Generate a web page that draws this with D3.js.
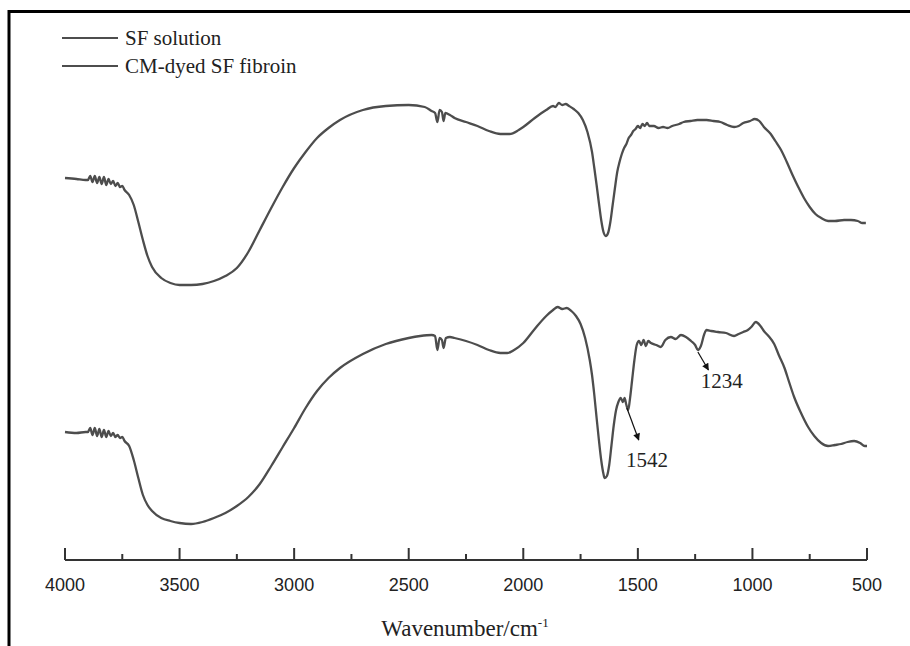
<!DOCTYPE html>
<html>
<head>
<meta charset="utf-8">
<script src="https://cdn.jsdelivr.net/npm/d3@7"></script>
<style>
  body { margin: 0; background: #fff; }
  svg { display: block; }
</style>
</head>
<body>
<svg id="chart" width="910" height="646"></svg>
<script>
// FTIR spectra, wavenumber (cm-1) vs transmittance (a.u., offset per curve)
var seriesNames = ["SF solution", "CM-dyed SF fibroin"];

var sfSolution = [
  [4000,76.4],[3950,76.2],[3910,76.0],[3900,76.0],[3890,76.8],[3880,75.6],[3870,76.8],[3860,75.4],
  [3850,76.6],[3840,75.2],[3830,76.6],[3820,75.0],[3810,76.2],[3800,75.2],[3790,75.8],[3780,74.8],
  [3770,75.4],[3760,74.6],[3750,74.8],[3740,74.0],[3720,73.0],[3700,71.0],[3680,67.6],[3660,64.0],[3640,60.8],
  [3620,58.6],[3580,56.4],[3540,55.4],[3500,55.0],[3450,55.0],[3400,55.2],[3350,55.8],[3300,56.8],
  [3250,58.4],[3200,61.6],[3150,66.0],[3100,70.4],[3050,74.6],[3000,78.4],[2950,81.6],[2900,84.4],
  [2850,86.4],[2800,88.0],[2700,90.0],[2600,90.8],[2500,91.0],[2430,90.6],[2400,89.8],[2385,89.4],
  [2375,87.6],[2365,90.0],[2355,89.6],[2348,87.8],[2340,89.4],[2320,89.0],[2300,88.4],[2250,87.6],
  [2200,86.8],[2150,85.8],[2100,85.2],[2060,85.2],[2020,86.0],[2000,86.6],[1950,88.4],[1900,90.0],
  [1870,90.8],[1860,90.6],[1845,91.4],[1830,91.0],[1815,91.2],[1800,90.8],[1780,90.2],[1760,89.4],
  [1740,88.0],[1720,85.6],[1700,81.6],[1690,78.4],[1680,75.0],[1670,71.4],[1660,68.0],[1650,65.6],
  [1640,64.8],[1630,65.4],[1620,67.6],[1610,71.0],[1600,74.4],[1590,77.6],[1580,79.6],[1570,81.2],
  [1560,82.4],[1550,83.2],[1540,84.4],[1530,85.0],[1520,85.8],[1510,86.2],[1500,86.8],[1490,86.4],
  [1480,87.2],[1470,86.8],[1460,87.4],[1450,86.8],[1430,86.8],[1410,86.4],[1390,86.6],[1370,86.4],
  [1350,86.8],[1320,87.2],[1300,87.6],[1270,87.8],[1240,88.0],[1200,88.0],[1170,87.8],[1140,87.6],
  [1110,87.0],[1080,86.6],[1060,86.8],[1040,87.4],[1010,87.8],[990,88.2],[970,87.8],[950,86.6],
  [920,85.2],[900,83.8],[875,82.0],[850,79.6],[825,77.0],[800,74.6],[775,72.4],[750,70.6],
  [725,69.2],[700,68.4],[670,67.8],[640,67.8],[600,68.0],[570,68.0],[540,67.8],[520,67.4],[505,67.4]
];

var cmDyed = [
  [4000,25.6],[3950,25.4],[3910,25.6],[3900,25.6],[3890,26.4],[3880,25.0],[3870,26.4],[3860,24.8],
  [3850,26.2],[3840,24.6],[3830,26.0],[3820,24.6],[3810,25.8],[3800,24.8],[3790,25.4],[3780,24.6],
  [3770,25.0],[3760,24.4],[3750,24.6],[3740,23.8],[3720,22.8],[3700,20.0],[3680,16.4],[3660,13.0],[3640,11.0],
  [3620,9.8],[3580,8.4],[3540,7.8],[3500,7.4],[3450,7.2],[3400,7.6],[3350,8.4],[3300,9.4],
  [3250,10.8],[3200,12.6],[3150,15.2],[3100,18.8],[3050,22.6],[3000,26.4],[2950,30.4],[2900,33.8],
  [2850,36.4],[2800,38.4],[2700,41.2],[2600,43.2],[2500,44.4],[2450,44.8],[2400,45.0],[2385,44.8],
  [2375,42.0],[2365,44.4],[2355,44.0],[2348,42.4],[2338,44.4],[2320,44.6],[2300,44.4],[2250,43.8],
  [2200,43.0],[2150,42.0],[2100,41.4],[2070,41.4],[2040,42.0],[2000,43.4],[1950,46.2],[1900,48.8],
  [1870,50.0],[1850,50.6],[1830,50.2],[1810,50.4],[1790,49.8],[1770,48.8],[1750,47.2],[1730,44.4],
  [1710,40.0],[1700,37.0],[1690,33.0],[1680,28.4],[1670,24.0],[1660,20.0],[1650,17.2],[1645,16.4],
  [1635,16.8],[1625,19.0],[1615,23.0],[1605,27.0],[1595,30.0],[1585,31.6],[1575,32.4],[1565,31.6],
  [1558,32.4],[1550,31.0],[1542,30.0],[1535,32.0],[1525,36.0],[1515,40.0],[1505,43.0],[1495,43.8],
  [1485,43.0],[1475,44.0],[1465,42.8],[1455,43.8],[1443,43.4],[1420,43.0],[1400,42.6],[1380,44.0],
  [1356,44.6],[1335,44.2],[1312,45.0],[1290,44.6],[1268,43.8],[1250,43.0],[1238,42.0],[1225,42.8],
  [1210,45.2],[1200,46.0],[1180,45.8],[1150,45.6],[1115,45.4],[1080,44.8],[1060,45.2],[1040,45.6],
  [1020,46.0],[1005,46.6],[985,47.6],[965,46.8],[950,45.8],[930,44.8],[905,43.2],[885,41.0],
  [860,38.4],[840,35.6],[818,32.6],[790,29.6],[757,26.6],[730,24.8],[700,23.4],[670,22.8],
  [640,23.0],[613,23.2],[585,23.6],[556,23.8],[530,23.4],[510,22.8],[500,22.8]
];

var majorTicks = [4000, 3500, 3000, 2500, 2000, 1500, 1000, 500];
var minorTicks = [3750, 3250, 2750, 2250, 1750, 1250, 750];

// peak labels: arrow from (wn, v) to (wn2, v2), text at (wt, vt)
var peakLabels = [
  { text: "1542", wn: 1548, v: 30.4, wn2: 1496, v2: 24.0, wt: 1552, vt: 18.6 },
  { text: "1234", wn: 1238, v: 41.6, wn2: 1192, v2: 38.0, wt: 1226, vt: 34.4 }
];

var svg = d3.select("#chart");
var lineColor = "#4d4d4d";

var x = d3.scaleLinear().domain([4000, 500]).range([65, 867]);
var y = d3.scaleLinear().domain([0, 100]).range([560, 60]);

// frame (only top and left edges show in the picture)
svg.append("path")
    .attr("d", "M9,646 V11.5 H910")
    .attr("fill", "none")
    .attr("stroke", "#000")
    .attr("stroke-width", 3);

// x axis, ticks point up into the plot
var axisG = svg.append("g").attr("transform", "translate(0,560)");
axisG.append("line")
    .attr("x1", x(4000)).attr("x2", x(500))
    .attr("stroke", "#333").attr("stroke-width", 2);
axisG.selectAll(".major").data(majorTicks).enter().append("line")
    .attr("x1", x).attr("x2", x)
    .attr("y1", 0).attr("y2", -12)
    .attr("stroke", "#333").attr("stroke-width", 2);
axisG.selectAll(".minor").data(minorTicks).enter().append("line")
    .attr("x1", x).attr("x2", x)
    .attr("y1", 0).attr("y2", -6)
    .attr("stroke", "#333").attr("stroke-width", 2);
axisG.selectAll(".tl").data(majorTicks).enter().append("text")
    .attr("x", x)
    .attr("y", 31)
    .attr("text-anchor", "middle")
    .attr("font-family", "Arial, 'Liberation Sans', sans-serif")
    .attr("font-size", 18)
    .attr("fill", "#222")
    .text(function(d) { return d; });

var title = svg.append("text")
    .attr("x", 465).attr("y", 636)
    .attr("text-anchor", "middle")
    .attr("font-family", "'Times New Roman', 'Liberation Serif', serif")
    .attr("font-size", 23)
    .attr("fill", "#222");
title.append("tspan").text("Wavenumber/cm");
title.append("tspan").attr("dy", -9).attr("font-size", 13).text("-1");

// spectra
var line = d3.line()
    .x(function(d) { return x(d[0]); })
    .y(function(d) { return y(d[1]); })
    .curve(d3.curveMonotoneX);

svg.selectAll(".spec").data([sfSolution, cmDyed]).enter().append("path")
    .attr("class", "spec")
    .attr("d", line)
    .attr("fill", "none")
    .attr("stroke", lineColor)
    .attr("stroke-width", 2.3)
    .attr("stroke-linejoin", "round");

// arrows + peak labels
svg.append("defs").append("marker")
    .attr("id", "head")
    .attr("viewBox", "0 0 10 10")
    .attr("refX", 9).attr("refY", 5)
    .attr("markerWidth", 9).attr("markerHeight", 7)
    .attr("markerUnits", "userSpaceOnUse")
    .attr("orient", "auto")
  .append("path")
    .attr("d", "M0,0 L10,5 L0,10 Z")
    .attr("fill", "#111");

svg.selectAll(".arr").data(peakLabels).enter().append("line")
    .attr("x1", function(d) { return x(d.wn); })
    .attr("y1", function(d) { return y(d.v); })
    .attr("x2", function(d) { return x(d.wn2); })
    .attr("y2", function(d) { return y(d.v2); })
    .attr("stroke", "#111").attr("stroke-width", 1.2)
    .attr("marker-end", "url(#head)");

svg.selectAll(".pl").data(peakLabels).enter().append("text")
    .attr("x", function(d) { return x(d.wt); })
    .attr("y", function(d) { return y(d.vt); })
    .attr("font-family", "'Times New Roman', 'Liberation Serif', serif")
    .attr("font-size", 21)
    .attr("fill", "#222")
    .text(function(d) { return d.text; });

// legend
var legend = svg.selectAll(".leg").data(seriesNames).enter().append("g")
    .attr("transform", function(d, i) { return "translate(62," + (38 + i * 28) + ")"; });
legend.append("line")
    .attr("x1", 0).attr("x2", 56)
    .attr("stroke", lineColor).attr("stroke-width", 2.2);
legend.append("text")
    .attr("x", 63).attr("y", 7)
    .attr("font-family", "'Times New Roman', 'Liberation Serif', serif")
    .attr("font-size", 21)
    .attr("fill", "#222")
    .text(function(d) { return d; });
</script>
</body>
</html>
